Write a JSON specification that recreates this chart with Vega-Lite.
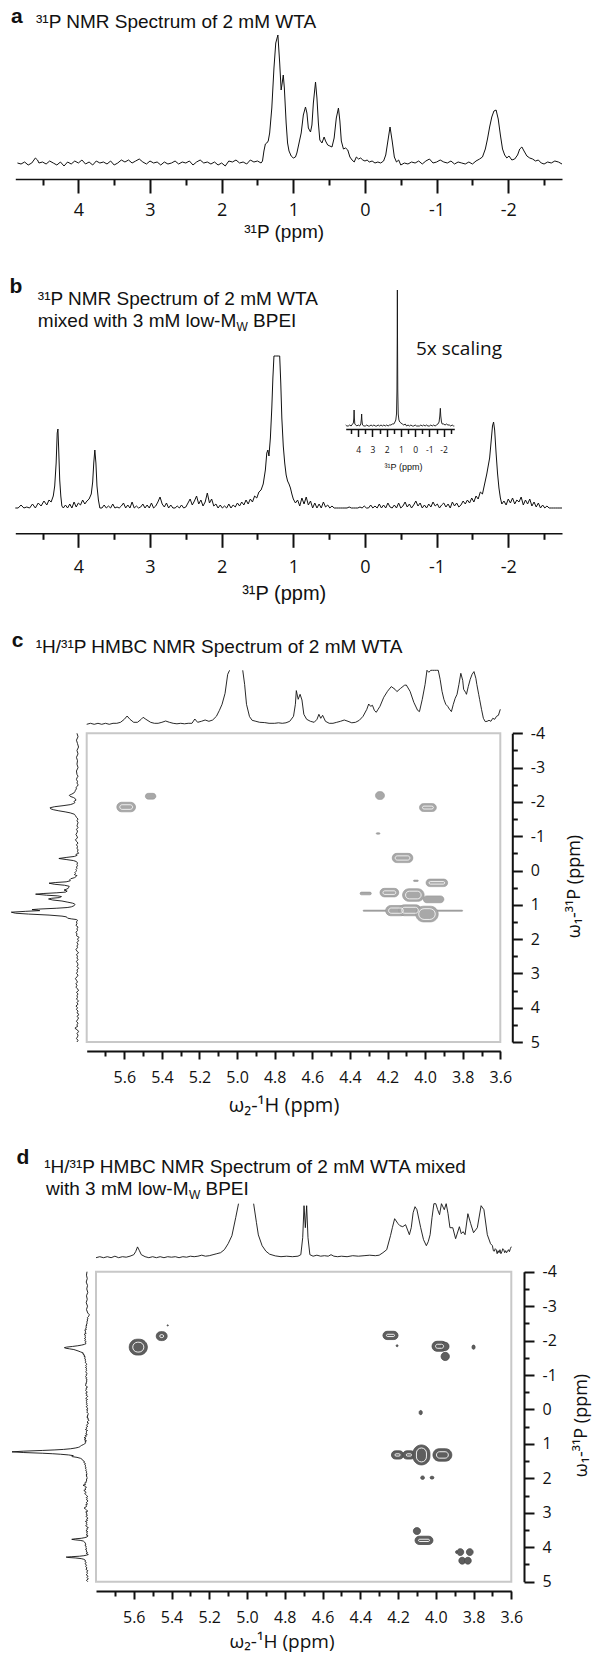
{
"$schema":"https://vega.github.io/schema/vega-lite/v6.json",
"width":593,"height":1656,"autosize":"none","padding":0,"background":"white",
"config":{"view":{"stroke":null},"axis":{"grid":false,"domainColor":"#111","tickColor":"#111","labelColor":"#111","titleColor":"#111","labelFont":"Open Sans","titleFont":"Open Sans","titleFontWeight":"normal","labelFlush":false,"labelOverlap":false,"labelBound":false}},
"datasets":{
"A":[{"p":5.0,"i":1},{"p":4.95,"i":-1},{"p":4.9,"i":2},{"p":4.85,"i":0},{"p":4.8,"i":-1},{"p":4.75,"i":1},{"p":4.7,"i":-2},{"p":4.65,"i":0},{"p":4.6,"i":5},{"p":4.57,"i":3},{"p":4.55,"i":0},{"p":4.5,"i":1},{"p":4.45,"i":-1},{"p":4.4,"i":2},{"p":4.35,"i":0},{"p":4.3,"i":-2},{"p":4.25,"i":1},{"p":4.2,"i":-3},{"p":4.15,"i":1},{"p":4.1,"i":-1},{"p":4.05,"i":2},{"p":4.0,"i":0},{"p":3.95,"i":3},{"p":3.9,"i":-1},{"p":3.85,"i":1},{"p":3.8,"i":-2},{"p":3.75,"i":2},{"p":3.7,"i":0},{"p":3.65,"i":1},{"p":3.6,"i":-1},{"p":3.55,"i":2},{"p":3.5,"i":-2},{"p":3.45,"i":0},{"p":3.4,"i":3},{"p":3.35,"i":1},{"p":3.3,"i":3},{"p":3.25,"i":0},{"p":3.2,"i":2},{"p":3.15,"i":4},{"p":3.1,"i":1},{"p":3.05,"i":-1},{"p":3.0,"i":2},{"p":2.95,"i":0},{"p":2.9,"i":1},{"p":2.85,"i":-2},{"p":2.8,"i":1},{"p":2.75,"i":-1},{"p":2.7,"i":0},{"p":2.65,"i":2},{"p":2.6,"i":-1},{"p":2.55,"i":1},{"p":2.5,"i":0},{"p":2.45,"i":2},{"p":2.4,"i":-2},{"p":2.35,"i":1},{"p":2.3,"i":3},{"p":2.25,"i":0},{"p":2.2,"i":1},{"p":2.15,"i":-1},{"p":2.1,"i":1},{"p":2.05,"i":-2},{"p":2.0,"i":0},{"p":1.95,"i":-3},{"p":1.9,"i":2},{"p":1.85,"i":1},{"p":1.8,"i":3},{"p":1.75,"i":0},{"p":1.7,"i":1},{"p":1.65,"i":-1},{"p":1.6,"i":3},{"p":1.55,"i":1},{"p":1.5,"i":2},{"p":1.45,"i":0},{"p":1.43,"i":2},{"p":1.41,"i":12},{"p":1.39,"i":19},{"p":1.37,"i":20},{"p":1.35,"i":22},{"p":1.33,"i":30},{"p":1.3,"i":55},{"p":1.27,"i":95},{"p":1.245,"i":120},{"p":1.215,"i":128},{"p":1.19,"i":100},{"p":1.17,"i":73},{"p":1.155,"i":80},{"p":1.14,"i":88},{"p":1.125,"i":75},{"p":1.1,"i":40},{"p":1.08,"i":20},{"p":1.06,"i":12},{"p":1.03,"i":7},{"p":1.0,"i":5},{"p":0.97,"i":6},{"p":0.95,"i":10},{"p":0.92,"i":20},{"p":0.89,"i":30},{"p":0.86,"i":48},{"p":0.83,"i":56},{"p":0.81,"i":50},{"p":0.79,"i":35},{"p":0.76,"i":31},{"p":0.74,"i":38},{"p":0.72,"i":60},{"p":0.69,"i":81},{"p":0.67,"i":65},{"p":0.65,"i":40},{"p":0.63,"i":23},{"p":0.6,"i":20},{"p":0.57,"i":26},{"p":0.55,"i":22},{"p":0.52,"i":18},{"p":0.49,"i":17},{"p":0.46,"i":16},{"p":0.43,"i":25},{"p":0.4,"i":45},{"p":0.37,"i":55},{"p":0.35,"i":42},{"p":0.33,"i":22},{"p":0.3,"i":14},{"p":0.27,"i":15},{"p":0.24,"i":13},{"p":0.21,"i":6},{"p":0.18,"i":3},{"p":0.15,"i":1},{"p":0.12,"i":6},{"p":0.09,"i":4},{"p":0.06,"i":5},{"p":0.03,"i":3},{"p":0.0,"i":2},{"p":-0.03,"i":3},{"p":-0.06,"i":1},{"p":-0.1,"i":2},{"p":-0.14,"i":0},{"p":-0.18,"i":1},{"p":-0.22,"i":0},{"p":-0.26,"i":2},{"p":-0.29,"i":8},{"p":-0.32,"i":22},{"p":-0.35,"i":36},{"p":-0.38,"i":22},{"p":-0.41,"i":6},{"p":-0.44,"i":1},{"p":-0.47,"i":3},{"p":-0.5,"i":-2},{"p":-0.55,"i":0},{"p":-0.6,"i":-1},{"p":-0.65,"i":1},{"p":-0.7,"i":0},{"p":-0.75,"i":2},{"p":-0.8,"i":-1},{"p":-0.85,"i":2},{"p":-0.9,"i":4},{"p":-0.95,"i":0},{"p":-1.0,"i":1},{"p":-1.05,"i":3},{"p":-1.1,"i":1},{"p":-1.15,"i":0},{"p":-1.2,"i":2},{"p":-1.25,"i":-1},{"p":-1.3,"i":1},{"p":-1.35,"i":0},{"p":-1.4,"i":-1},{"p":-1.45,"i":1},{"p":-1.5,"i":-1},{"p":-1.55,"i":2},{"p":-1.6,"i":4},{"p":-1.64,"i":6},{"p":-1.68,"i":14},{"p":-1.71,"i":24},{"p":-1.74,"i":36},{"p":-1.77,"i":46},{"p":-1.8,"i":52},{"p":-1.83,"i":53},{"p":-1.86,"i":44},{"p":-1.89,"i":28},{"p":-1.92,"i":14},{"p":-1.95,"i":8},{"p":-1.98,"i":5},{"p":-2.01,"i":7},{"p":-2.05,"i":3},{"p":-2.09,"i":4},{"p":-2.13,"i":8},{"p":-2.16,"i":14},{"p":-2.19,"i":16},{"p":-2.22,"i":12},{"p":-2.26,"i":7},{"p":-2.3,"i":5},{"p":-2.34,"i":4},{"p":-2.38,"i":2},{"p":-2.42,"i":3},{"p":-2.46,"i":0},{"p":-2.5,"i":-1},{"p":-2.55,"i":1},{"p":-2.6,"i":0},{"p":-2.65,"i":2},{"p":-2.7,"i":1},{"p":-2.75,"i":-1},{"p":-2.8,"i":1},{"p":-2.9,"i":2},{"p":-3.0,"i":-1},{"p":-3.1,"i":1},{"p":-3.2,"i":0},{"p":-3.3,"i":2},{"p":-3.4,"i":-1},{"p":-3.5,"i":1},{"p":-3.6,"i":-2},{"p":-3.7,"i":0},{"p":-3.8,"i":2},{"p":-3.9,"i":-1},{"p":-4.0,"i":1}],
"B":[{"p":5.0,"i":-3},{"p":4.96,"i":2},{"p":4.92,"i":-5},{"p":4.88,"i":0},{"p":4.84,"i":-4},{"p":4.8,"i":3},{"p":4.76,"i":-2},{"p":4.72,"i":1},{"p":4.68,"i":-3},{"p":4.64,"i":4},{"p":4.6,"i":0},{"p":4.56,"i":5},{"p":4.52,"i":2},{"p":4.48,"i":7},{"p":4.44,"i":3},{"p":4.41,"i":8},{"p":4.38,"i":6},{"p":4.35,"i":12},{"p":4.33,"i":22},{"p":4.31,"i":45},{"p":4.295,"i":75},{"p":4.285,"i":79},{"p":4.275,"i":60},{"p":4.26,"i":28},{"p":4.245,"i":12},{"p":4.23,"i":2},{"p":4.21,"i":-5},{"p":4.18,"i":3},{"p":4.15,"i":-2},{"p":4.12,"i":4},{"p":4.09,"i":0},{"p":4.06,"i":6},{"p":4.03,"i":1},{"p":4.0,"i":5},{"p":3.97,"i":3},{"p":3.94,"i":8},{"p":3.91,"i":4},{"p":3.88,"i":7},{"p":3.85,"i":9},{"p":3.82,"i":14},{"p":3.8,"i":26},{"p":3.785,"i":45},{"p":3.77,"i":58},{"p":3.755,"i":45},{"p":3.74,"i":22},{"p":3.72,"i":8},{"p":3.7,"i":0},{"p":3.67,"i":-4},{"p":3.64,"i":3},{"p":3.61,"i":-2},{"p":3.58,"i":2},{"p":3.55,"i":-3},{"p":3.52,"i":4},{"p":3.49,"i":-1},{"p":3.46,"i":1},{"p":3.43,"i":-5},{"p":3.4,"i":2},{"p":3.37,"i":5},{"p":3.34,"i":-1},{"p":3.31,"i":3},{"p":3.28,"i":0},{"p":3.25,"i":6},{"p":3.22,"i":-2},{"p":3.19,"i":2},{"p":3.16,"i":-4},{"p":3.13,"i":1},{"p":3.1,"i":4},{"p":3.07,"i":-2},{"p":3.04,"i":3},{"p":3.01,"i":0},{"p":2.98,"i":5},{"p":2.95,"i":-3},{"p":2.92,"i":2},{"p":2.89,"i":6},{"p":2.86,"i":11},{"p":2.83,"i":4},{"p":2.8,"i":1},{"p":2.77,"i":5},{"p":2.74,"i":-2},{"p":2.71,"i":3},{"p":2.68,"i":0},{"p":2.65,"i":-4},{"p":2.62,"i":2},{"p":2.59,"i":-1},{"p":2.56,"i":3},{"p":2.53,"i":-3},{"p":2.5,"i":1},{"p":2.47,"i":5},{"p":2.44,"i":9},{"p":2.41,"i":3},{"p":2.38,"i":7},{"p":2.35,"i":12},{"p":2.32,"i":4},{"p":2.29,"i":8},{"p":2.26,"i":2},{"p":2.23,"i":6},{"p":2.2,"i":15},{"p":2.17,"i":5},{"p":2.14,"i":9},{"p":2.11,"i":2},{"p":2.08,"i":4},{"p":2.05,"i":0},{"p":2.02,"i":3},{"p":1.99,"i":-2},{"p":1.96,"i":2},{"p":1.93,"i":0},{"p":1.9,"i":4},{"p":1.87,"i":-1},{"p":1.84,"i":3},{"p":1.81,"i":1},{"p":1.78,"i":5},{"p":1.75,"i":2},{"p":1.72,"i":6},{"p":1.69,"i":3},{"p":1.66,"i":8},{"p":1.63,"i":4},{"p":1.6,"i":9},{"p":1.57,"i":6},{"p":1.54,"i":12},{"p":1.51,"i":10},{"p":1.48,"i":16},{"p":1.45,"i":18},{"p":1.42,"i":24},{"p":1.39,"i":38},{"p":1.37,"i":55},{"p":1.355,"i":58},{"p":1.34,"i":52},{"p":1.32,"i":70},{"p":1.3,"i":100},{"p":1.285,"i":130},{"p":1.27,"i":170},{"p":1.25,"i":240},{"p":1.23,"i":285},{"p":1.21,"i":240},{"p":1.19,"i":170},{"p":1.175,"i":125},{"p":1.16,"i":90},{"p":1.14,"i":62},{"p":1.12,"i":45},{"p":1.1,"i":33},{"p":1.08,"i":27},{"p":1.06,"i":24},{"p":1.04,"i":20},{"p":1.02,"i":14},{"p":1.0,"i":9},{"p":0.97,"i":5},{"p":0.94,"i":8},{"p":0.91,"i":2},{"p":0.88,"i":10},{"p":0.85,"i":4},{"p":0.82,"i":11},{"p":0.79,"i":3},{"p":0.76,"i":7},{"p":0.73,"i":-1},{"p":0.7,"i":5},{"p":0.67,"i":0},{"p":0.64,"i":4},{"p":0.61,"i":-2},{"p":0.58,"i":6},{"p":0.55,"i":1},{"p":0.52,"i":3},{"p":0.49,"i":-3},{"p":0.46,"i":2},{"p":0.43,"i":-1},{"p":0.4,"i":-6},{"p":0.37,"i":0},{"p":0.34,"i":-4},{"p":0.31,"i":-8},{"p":0.28,"i":-2},{"p":0.25,"i":-5},{"p":0.22,"i":1},{"p":0.19,"i":-4},{"p":0.16,"i":-1},{"p":0.13,"i":-6},{"p":0.1,"i":-2},{"p":0.07,"i":1},{"p":0.04,"i":-3},{"p":0.01,"i":2},{"p":-0.02,"i":-4},{"p":-0.05,"i":0},{"p":-0.08,"i":3},{"p":-0.11,"i":-2},{"p":-0.14,"i":2},{"p":-0.17,"i":-1},{"p":-0.2,"i":4},{"p":-0.23,"i":0},{"p":-0.26,"i":3},{"p":-0.29,"i":-2},{"p":-0.32,"i":5},{"p":-0.35,"i":1},{"p":-0.38,"i":-3},{"p":-0.41,"i":3},{"p":-0.44,"i":0},{"p":-0.47,"i":5},{"p":-0.5,"i":-1},{"p":-0.53,"i":2},{"p":-0.56,"i":6},{"p":-0.59,"i":1},{"p":-0.62,"i":4},{"p":-0.65,"i":-2},{"p":-0.68,"i":3},{"p":-0.71,"i":7},{"p":-0.74,"i":2},{"p":-0.77,"i":5},{"p":-0.8,"i":0},{"p":-0.83,"i":3},{"p":-0.86,"i":-1},{"p":-0.89,"i":4},{"p":-0.92,"i":1},{"p":-0.95,"i":6},{"p":-0.98,"i":2},{"p":-1.01,"i":4},{"p":-1.04,"i":-1},{"p":-1.07,"i":3},{"p":-1.1,"i":5},{"p":-1.13,"i":1},{"p":-1.16,"i":4},{"p":-1.19,"i":0},{"p":-1.22,"i":6},{"p":-1.25,"i":2},{"p":-1.28,"i":5},{"p":-1.31,"i":1},{"p":-1.34,"i":3},{"p":-1.37,"i":7},{"p":-1.4,"i":4},{"p":-1.43,"i":8},{"p":-1.46,"i":5},{"p":-1.49,"i":10},{"p":-1.52,"i":6},{"p":-1.55,"i":12},{"p":-1.58,"i":9},{"p":-1.61,"i":16},{"p":-1.64,"i":14},{"p":-1.67,"i":24},{"p":-1.7,"i":34},{"p":-1.72,"i":42},{"p":-1.74,"i":50},{"p":-1.76,"i":66},{"p":-1.78,"i":82},{"p":-1.795,"i":86},{"p":-1.81,"i":78},{"p":-1.83,"i":55},{"p":-1.85,"i":35},{"p":-1.87,"i":20},{"p":-1.89,"i":10},{"p":-1.91,"i":4},{"p":-1.94,"i":7},{"p":-1.97,"i":3},{"p":-2.0,"i":9},{"p":-2.03,"i":5},{"p":-2.06,"i":10},{"p":-2.09,"i":4},{"p":-2.12,"i":8},{"p":-2.15,"i":6},{"p":-2.18,"i":11},{"p":-2.21,"i":3},{"p":-2.24,"i":8},{"p":-2.27,"i":4},{"p":-2.3,"i":9},{"p":-2.33,"i":2},{"p":-2.36,"i":6},{"p":-2.39,"i":1},{"p":-2.42,"i":5},{"p":-2.45,"i":0},{"p":-2.48,"i":3},{"p":-2.51,"i":-2},{"p":-2.54,"i":2},{"p":-2.57,"i":-3},{"p":-2.6,"i":0},{"p":-2.63,"i":-4},{"p":-2.66,"i":-1},{"p":-2.69,"i":-5},{"p":-2.72,"i":-7},{"p":-2.75,"i":-9},{"p":-2.8,"i":-3},{"p":-2.9,"i":2},{"p":-3.0,"i":-2},{"p":-3.1,"i":3},{"p":-3.2,"i":-1},{"p":-3.3,"i":2},{"p":-3.4,"i":-3},{"p":-3.5,"i":1},{"p":-3.6,"i":-2},{"p":-3.7,"i":3},{"p":-3.8,"i":-1},{"p":-3.9,"i":2},{"p":-4.0,"i":0}],
"I":[{"p":4.88,"i":1},{"p":4.8,"i":-1},{"p":4.7,"i":0},{"p":4.6,"i":1},{"p":4.5,"i":0},{"p":4.4,"i":2},{"p":4.34,"i":3},{"p":4.31,"i":8},{"p":4.29,"i":16},{"p":4.27,"i":8},{"p":4.24,"i":2},{"p":4.1,"i":0},{"p":4.0,"i":1},{"p":3.9,"i":0},{"p":3.82,"i":2},{"p":3.78,"i":7},{"p":3.76,"i":12},{"p":3.74,"i":6},{"p":3.7,"i":1},{"p":3.6,"i":-1},{"p":3.5,"i":0},{"p":3.4,"i":1},{"p":3.3,"i":-1},{"p":3.2,"i":0},{"p":3.1,"i":1},{"p":3.0,"i":0},{"p":2.9,"i":1},{"p":2.8,"i":-1},{"p":2.7,"i":0},{"p":2.6,"i":1},{"p":2.5,"i":0},{"p":2.4,"i":1},{"p":2.3,"i":0},{"p":2.2,"i":1},{"p":2.1,"i":0},{"p":2.0,"i":1},{"p":1.9,"i":0},{"p":1.8,"i":1},{"p":1.7,"i":1},{"p":1.6,"i":2},{"p":1.5,"i":2},{"p":1.42,"i":4},{"p":1.36,"i":6},{"p":1.31,"i":12},{"p":1.28,"i":35},{"p":1.26,"i":90},{"p":1.25,"i":136},{"p":1.24,"i":90},{"p":1.22,"i":35},{"p":1.19,"i":12},{"p":1.14,"i":6},{"p":1.08,"i":4},{"p":1.0,"i":3},{"p":0.9,"i":2},{"p":0.8,"i":1},{"p":0.7,"i":2},{"p":0.6,"i":0},{"p":0.5,"i":1},{"p":0.4,"i":0},{"p":0.3,"i":1},{"p":0.2,"i":-1},{"p":0.1,"i":0},{"p":0.0,"i":1},{"p":-0.1,"i":0},{"p":-0.2,"i":-1},{"p":-0.3,"i":0},{"p":-0.4,"i":1},{"p":-0.5,"i":0},{"p":-0.6,"i":1},{"p":-0.7,"i":0},{"p":-0.8,"i":1},{"p":-0.9,"i":-1},{"p":-1.0,"i":0},{"p":-1.1,"i":1},{"p":-1.2,"i":0},{"p":-1.3,"i":1},{"p":-1.4,"i":0},{"p":-1.5,"i":1},{"p":-1.6,"i":2},{"p":-1.68,"i":4},{"p":-1.73,"i":10},{"p":-1.77,"i":17.7},{"p":-1.8,"i":10},{"p":-1.85,"i":4},{"p":-1.9,"i":2},{"p":-2.0,"i":2},{"p":-2.1,"i":1},{"p":-2.2,"i":2},{"p":-2.3,"i":1},{"p":-2.4,"i":1},{"p":-2.5,"i":0},{"p":-2.6,"i":1},{"p":-2.7,"i":-1},{"p":-2.75,"i":-1}],
"CT":[{"p":5.8,"i":0},{"p":5.78,"i":1},{"p":5.76,"i":0},{"p":5.74,"i":1},{"p":5.72,"i":0},{"p":5.7,"i":1},{"p":5.68,"i":0},{"p":5.66,"i":1},{"p":5.64,"i":1},{"p":5.62,"i":2},{"p":5.6,"i":5},{"p":5.585,"i":8.3},{"p":5.57,"i":5},{"p":5.55,"i":2},{"p":5.53,"i":2},{"p":5.51,"i":5},{"p":5.5,"i":7},{"p":5.485,"i":5},{"p":5.46,"i":2},{"p":5.44,"i":1},{"p":5.42,"i":1},{"p":5.4,"i":2},{"p":5.38,"i":3.3},{"p":5.36,"i":2},{"p":5.34,"i":1},{"p":5.32,"i":0.5},{"p":5.3,"i":1},{"p":5.28,"i":0.5},{"p":5.26,"i":1},{"p":5.24,"i":1},{"p":5.225,"i":5.3},{"p":5.21,"i":2},{"p":5.19,"i":3},{"p":5.17,"i":4.3},{"p":5.15,"i":3},{"p":5.13,"i":4.3},{"p":5.11,"i":8},{"p":5.094,"i":14},{"p":5.08,"i":20},{"p":5.064,"i":31},{"p":5.05,"i":50},{"p":5.04,"i":60},{"p":5.02,"i":null},{"p":5.0,"i":null},{"p":4.98,"i":null},{"p":4.97,"i":60},{"p":4.96,"i":40},{"p":4.95,"i":20},{"p":4.934,"i":7.7},{"p":4.92,"i":4},{"p":4.9,"i":3},{"p":4.88,"i":2},{"p":4.853,"i":1.7},{"p":4.83,"i":1},{"p":4.8,"i":1},{"p":4.78,"i":1.5},{"p":4.76,"i":1},{"p":4.74,"i":1.5},{"p":4.72,"i":3},{"p":4.7,"i":8},{"p":4.69,"i":20},{"p":4.685,"i":33.7},{"p":4.675,"i":25},{"p":4.665,"i":30},{"p":4.655,"i":24.3},{"p":4.645,"i":10},{"p":4.63,"i":5},{"p":4.61,"i":3},{"p":4.59,"i":2},{"p":4.575,"i":5},{"p":4.565,"i":10},{"p":4.555,"i":6},{"p":4.545,"i":9},{"p":4.53,"i":3},{"p":4.51,"i":1},{"p":4.49,"i":1},{"p":4.47,"i":2},{"p":4.45,"i":3},{"p":4.43,"i":4.3},{"p":4.41,"i":3},{"p":4.39,"i":1.5},{"p":4.37,"i":2},{"p":4.35,"i":4},{"p":4.33,"i":8},{"p":4.31,"i":15},{"p":4.3,"i":20.3},{"p":4.29,"i":18},{"p":4.28,"i":19},{"p":4.27,"i":14},{"p":4.26,"i":12},{"p":4.25,"i":15},{"p":4.24,"i":18},{"p":4.22,"i":27},{"p":4.2,"i":33},{"p":4.18,"i":37.7},{"p":4.16,"i":35},{"p":4.15,"i":32.7},{"p":4.13,"i":36},{"p":4.11,"i":39},{"p":4.1,"i":39.3},{"p":4.08,"i":33},{"p":4.06,"i":22},{"p":4.04,"i":14},{"p":4.03,"i":12.7},{"p":4.015,"i":25},{"p":4.0,"i":40},{"p":3.99,"i":60},{"p":3.98,"i":52},{"p":3.97,"i":60},{"p":3.96,"i":55},{"p":3.95,"i":60},{"p":3.94,"i":58},{"p":3.93,"i":60},{"p":3.92,"i":45},{"p":3.91,"i":33},{"p":3.9,"i":25},{"p":3.89,"i":20},{"p":3.88,"i":18},{"p":3.87,"i":15},{"p":3.86,"i":12.7},{"p":3.85,"i":20},{"p":3.84,"i":26},{"p":3.83,"i":30},{"p":3.82,"i":40},{"p":3.81,"i":51},{"p":3.8,"i":44},{"p":3.795,"i":35},{"p":3.785,"i":32},{"p":3.78,"i":30},{"p":3.77,"i":38},{"p":3.76,"i":45},{"p":3.75,"i":50},{"p":3.74,"i":52.7},{"p":3.73,"i":46},{"p":3.725,"i":40},{"p":3.715,"i":30},{"p":3.71,"i":25},{"p":3.7,"i":15},{"p":3.69,"i":6},{"p":3.68,"i":2.7},{"p":3.67,"i":3},{"p":3.66,"i":4},{"p":3.65,"i":3},{"p":3.64,"i":6},{"p":3.63,"i":5},{"p":3.62,"i":8},{"p":3.61,"i":9},{"p":3.6,"i":15}],
"DT":[{"p":5.8,"i":0},{"p":5.78,"i":1},{"p":5.76,"i":-0.5},{"p":5.74,"i":1},{"p":5.72,"i":0},{"p":5.7,"i":1.5},{"p":5.68,"i":0},{"p":5.66,"i":1},{"p":5.64,"i":0.5},{"p":5.62,"i":1.5},{"p":5.6,"i":3},{"p":5.59,"i":6},{"p":5.58,"i":10.8},{"p":5.57,"i":7},{"p":5.56,"i":3},{"p":5.54,"i":1},{"p":5.52,"i":0},{"p":5.5,"i":1},{"p":5.48,"i":-0.5},{"p":5.46,"i":1},{"p":5.44,"i":0},{"p":5.42,"i":1},{"p":5.4,"i":0.5},{"p":5.38,"i":1},{"p":5.36,"i":0},{"p":5.34,"i":1},{"p":5.32,"i":0.5},{"p":5.3,"i":1.5},{"p":5.28,"i":1},{"p":5.26,"i":1.5},{"p":5.24,"i":2.5},{"p":5.22,"i":1.5},{"p":5.2,"i":2},{"p":5.18,"i":3},{"p":5.16,"i":4},{"p":5.14,"i":5},{"p":5.12,"i":8},{"p":5.1,"i":14},{"p":5.08,"i":22},{"p":5.06,"i":40},{"p":5.045,"i":56},{"p":5.02,"i":null},{"p":5.0,"i":null},{"p":4.98,"i":null},{"p":4.965,"i":56},{"p":4.95,"i":35},{"p":4.94,"i":22.8},{"p":4.92,"i":12},{"p":4.9,"i":6.5},{"p":4.88,"i":3.5},{"p":4.85,"i":1.8},{"p":4.82,"i":1},{"p":4.79,"i":1.5},{"p":4.76,"i":1},{"p":4.73,"i":1.5},{"p":4.715,"i":3},{"p":4.705,"i":20},{"p":4.698,"i":52},{"p":4.691,"i":30},{"p":4.684,"i":52},{"p":4.677,"i":20},{"p":4.667,"i":3},{"p":4.65,"i":1.5},{"p":4.63,"i":2.5},{"p":4.61,"i":1.5},{"p":4.59,"i":2},{"p":4.57,"i":1.5},{"p":4.555,"i":3},{"p":4.54,"i":1.5},{"p":4.52,"i":1},{"p":4.5,"i":1.5},{"p":4.47,"i":1},{"p":4.44,"i":2},{"p":4.41,"i":1.5},{"p":4.38,"i":2},{"p":4.35,"i":2.5},{"p":4.32,"i":2},{"p":4.3,"i":2.5},{"p":4.28,"i":5},{"p":4.26,"i":8},{"p":4.24,"i":22},{"p":4.23,"i":30},{"p":4.218,"i":39},{"p":4.2,"i":34},{"p":4.19,"i":32},{"p":4.175,"i":31},{"p":4.16,"i":33},{"p":4.14,"i":23},{"p":4.13,"i":30},{"p":4.12,"i":45},{"p":4.11,"i":51},{"p":4.1,"i":48},{"p":4.08,"i":30},{"p":4.065,"i":18},{"p":4.05,"i":12},{"p":4.04,"i":16},{"p":4.03,"i":23},{"p":4.02,"i":40},{"p":4.01,"i":60},{"p":4.0,"i":60},{"p":3.99,"i":48},{"p":3.98,"i":43},{"p":3.97,"i":60},{"p":3.955,"i":48},{"p":3.945,"i":60},{"p":3.935,"i":44},{"p":3.925,"i":30},{"p":3.91,"i":30},{"p":3.895,"i":19},{"p":3.875,"i":31},{"p":3.865,"i":24},{"p":3.855,"i":26},{"p":3.845,"i":23},{"p":3.83,"i":44},{"p":3.815,"i":34},{"p":3.8,"i":25},{"p":3.78,"i":30},{"p":3.76,"i":52},{"p":3.745,"i":48},{"p":3.727,"i":23},{"p":3.71,"i":14},{"p":3.7,"i":12},{"p":3.695,"i":7},{"p":3.69,"i":6.5},{"p":3.685,"i":9},{"p":3.68,"i":8},{"p":3.675,"i":4},{"p":3.67,"i":7},{"p":3.665,"i":5},{"p":3.66,"i":8},{"p":3.655,"i":4},{"p":3.65,"i":6},{"p":3.645,"i":9},{"p":3.64,"i":8},{"p":3.635,"i":5},{"p":3.63,"i":7},{"p":3.625,"i":5},{"p":3.62,"i":6.5},{"p":3.615,"i":8},{"p":3.61,"i":6},{"p":3.605,"i":9},{"p":3.6,"i":11}],
"CB":[{"x1":5.64,"x2":5.54,"y1":-1.99,"y2":-1.71},{"x1":5.488,"x2":5.432,"y1":-2.25,"y2":-2.08},{"x1":4.264,"x2":4.216,"y1":-2.3,"y2":-2.07},{"x1":4.03,"x2":3.94,"y1":-1.95,"y2":-1.72},{"x1":4.26,"x2":4.24,"y1":-1.1,"y2":-1.06},{"x1":4.175,"x2":4.065,"y1":-0.5,"y2":-0.23},{"x1":4.062,"x2":4.036,"y1":0.28,"y2":0.32},{"x1":3.995,"x2":3.88,"y1":0.25,"y2":0.47},{"x1":4.346,"x2":4.286,"y1":0.63,"y2":0.71},{"x1":4.24,"x2":4.14,"y1":0.52,"y2":0.77},{"x1":4.12,"x2":4.005,"y1":0.53,"y2":0.9},{"x1":4.01,"x2":3.9,"y1":0.74,"y2":0.94},{"x1":4.33,"x2":3.8,"y1":1.155,"y2":1.19},{"x1":4.21,"x2":4.1,"y1":1.02,"y2":1.32},{"x1":4.14,"x2":4.02,"y1":1.0,"y2":1.32},{"x1":4.05,"x2":3.93,"y1":1.04,"y2":1.5}],
"DB":[{"x1":5.624,"x2":5.528,"y1":-2.04,"y2":-1.58},{"x1":5.481,"x2":5.423,"y1":-2.26,"y2":-2.0},{"x1":5.423,"x2":5.417,"y1":-2.46,"y2":-2.42},{"x1":4.28,"x2":4.2,"y1":-2.27,"y2":-2.03},{"x1":4.21,"x2":4.2,"y1":-1.88,"y2":-1.82},{"x1":4.02,"x2":3.94,"y1":-1.98,"y2":-1.69},{"x1":3.97,"x2":3.93,"y1":-1.95,"y2":-1.71},{"x1":3.972,"x2":3.928,"y1":-1.66,"y2":-1.42},{"x1":3.808,"x2":3.792,"y1":-1.87,"y2":-1.75},{"x1":4.088,"x2":4.072,"y1":0.03,"y2":0.15},{"x1":4.235,"x2":4.17,"y1":1.2,"y2":1.44},{"x1":4.175,"x2":4.11,"y1":1.2,"y2":1.44},{"x1":4.121,"x2":4.031,"y1":1.03,"y2":1.61},{"x1":4.015,"x2":3.915,"y1":1.14,"y2":1.5},{"x1":4.08,"x2":4.06,"y1":1.93,"y2":2.03},{"x1":4.03,"x2":4.01,"y1":1.94,"y2":2.02},{"x1":4.119,"x2":4.081,"y1":3.43,"y2":3.63},{"x1":4.11,"x2":4.015,"y1":3.68,"y2":3.92},{"x1":3.888,"x2":3.852,"y1":4.04,"y2":4.24},{"x1":3.838,"x2":3.802,"y1":4.04,"y2":4.24},{"x1":3.878,"x2":3.842,"y1":4.29,"y2":4.49},{"x1":3.848,"x2":3.812,"y1":4.29,"y2":4.49},{"x1":3.895,"x2":3.885,"y1":4.1,"y2":4.18}]
},
"layer":[
{"data":{"name":"A"},"transform":[{"filter":"datum.p <= 4.88 && datum.p >= -2.75"}],"mark":{"type":"line","color":"#111","strokeWidth":1},
 "encoding":{"x":{"field":"p","type":"quantitative","scale":{"domain":[4.88,-2.75],"range":[15.3,562],"zero":false,"nice":false},
   "axis":{"orient":"bottom","offset":-1477,"values":[4,3,2,1,0,-1,-2],"labelExpr":"'' + datum.value","tickSize":14,"tickWidth":2,"domainWidth":1.5,"labelFontSize":18,"labelPadding":8,"title":"³¹P  (ppm)","titleFont":"Liberation Sans","titleFontSize":19,"titleX":283.7,"titleY":58,"titleAlign":"center","titleBaseline":"alphabetic"}},
  "y":{"field":"i","type":"quantitative","scale":{"domain":[0,128],"range":[163,35],"zero":false,"nice":false},"axis":null}}},
{"layer":[
 {"data":{"values":[{"t":"a"}]},"mark":{"type":"text","align":"left","baseline":"alphabetic","font":"Liberation Sans","fontSize":21,"fontWeight":"bold","color":"#111"},
  "encoding":{"text":{"field":"t","type":"nominal"},"x":{"datum":4.94,"type":"quantitative","scale":{"domain":[4.88,-2.75],"range":[15.3,562],"zero":false,"nice":false},"axis":null},"y":{"datum":139.7,"type":"quantitative","scale":{"domain":[0,128],"range":[163,35],"zero":false,"nice":false},"axis":null}}},
 {"data":{"values":[{"t":"³¹P NMR Spectrum of 2 mM WTA"}]},"mark":{"type":"text","align":"left","baseline":"alphabetic","font":"Liberation Sans","fontSize":19,"color":"#111"},
  "encoding":{"text":{"field":"t","type":"nominal"},"x":{"datum":4.591,"type":"quantitative","axis":null},"y":{"datum":134.7,"type":"quantitative","axis":null}}}
]},
{"data":{"values":[{"z":0}]},"mark":{"type":"point","opacity":0},
 "encoding":{"x":{"datum":0,"type":"quantitative","scale":{"domain":[4.88,-2.75],"range":[15.3,562],"zero":false,"nice":false},
  "axis":{"orient":"bottom","offset":-1477,"values":[4.5,3.5,2.5,1.5,0.5,-0.5,-1.5,-2.5],"tickSize":6,"tickWidth":2,"labels":false,"domain":false,"title":null}}}},
{"data":{"name":"B"},"transform":[{"filter":"datum.p <= 4.88 && datum.p >= -2.75"}],"mark":{"type":"line","color":"#111","strokeWidth":1},
 "encoding":{"x":{"field":"p","type":"quantitative","scale":{"domain":[4.88,-2.75],"range":[15.3,562],"zero":false,"nice":false},
   "axis":{"orient":"bottom","offset":-1122.7,"values":[4,3,2,1,0,-1,-2],"labelExpr":"'' + datum.value","tickSize":14,"tickWidth":2,"domainWidth":1.5,"labelFontSize":18,"labelPadding":11,"title":"³¹P  (ppm)","titleFont":"Liberation Sans","titleFontSize":20,"titleX":283.7,"titleY":65.7,"titleAlign":"center","titleBaseline":"alphabetic"}},
  "y":{"field":"i","type":"quantitative","scale":{"domain":[0,152],"range":[508,356],"zero":false,"nice":false,"clamp":true},"axis":null}}},
{"data":{"values":[{"z":0}]},"mark":{"type":"point","opacity":0},
 "encoding":{"x":{"datum":0,"type":"quantitative","scale":{"domain":[4.88,-2.75],"range":[15.3,562],"zero":false,"nice":false},
  "axis":{"orient":"bottom","offset":-1122.7,"values":[4.5,3.5,2.5,1.5,0.5,-0.5,-1.5,-2.5],"tickSize":6,"tickWidth":2,"labels":false,"domain":false,"title":null}}}},
{"layer":[
 {"data":{"values":[{"t":"b"}]},"mark":{"type":"text","align":"left","baseline":"alphabetic","font":"Liberation Sans","fontSize":21,"fontWeight":"bold","color":"#111"},
  "encoding":{"text":{"field":"t","type":"nominal"},"x":{"datum":4.961,"type":"quantitative","scale":{"domain":[4.88,-2.75],"range":[15.3,562],"zero":false,"nice":false},"axis":null},"y":{"datum":214.7,"type":"quantitative","scale":{"domain":[0,152],"range":[508,356],"zero":false,"nice":false},"axis":null}}},
 {"data":{"values":[{"t":"³¹P NMR Spectrum of 2 mM WTA"}]},"mark":{"type":"text","align":"left","baseline":"alphabetic","font":"Liberation Sans","fontSize":19,"color":"#111"},
  "encoding":{"text":{"field":"t","type":"nominal"},"x":{"datum":4.566,"type":"quantitative","axis":null},"y":{"datum":203,"type":"quantitative","axis":null}}},
 {"data":{"values":[{"t":"mixed with 3 mM low-M"}]},"mark":{"type":"text","align":"left","baseline":"alphabetic","font":"Liberation Sans","fontSize":19,"color":"#111"},
  "encoding":{"text":{"field":"t","type":"nominal"},"x":{"datum":4.566,"type":"quantitative","axis":null},"y":{"datum":180.7,"type":"quantitative","axis":null}}},
 {"data":{"values":[{"t":"W"}]},"mark":{"type":"text","align":"left","baseline":"alphabetic","font":"Liberation Sans","fontSize":12,"color":"#111"},
  "encoding":{"text":{"field":"t","type":"nominal"},"x":{"datum":1.793,"type":"quantitative","axis":null},"y":{"datum":177,"type":"quantitative","axis":null}}},
 {"data":{"values":[{"t":"BPEI"}]},"mark":{"type":"text","align":"left","baseline":"alphabetic","font":"Liberation Sans","fontSize":19,"color":"#111"},
  "encoding":{"text":{"field":"t","type":"nominal"},"x":{"datum":1.562,"type":"quantitative","axis":null},"y":{"datum":180.7,"type":"quantitative","axis":null}}},
 {"data":{"values":[{"t":"5x scaling"}]},"mark":{"type":"text","align":"left","baseline":"alphabetic","font":"Open Sans","fontSize":19,"color":"#111"},
  "encoding":{"text":{"field":"t","type":"nominal"},"x":{"datum":-0.712,"type":"quantitative","axis":null},"y":{"datum":153,"type":"quantitative","axis":null}}}
]},
{"data":{"name":"I"},"mark":{"type":"line","color":"#111","strokeWidth":0.9},
 "encoding":{"x":{"field":"p","type":"quantitative","scale":{"domain":[4.88,-2.75],"range":[345.7,454.3],"zero":false,"nice":false},
   "axis":{"orient":"bottom","offset":-1227,"values":[4,3,2,1,0,-1,-2],"labelExpr":"'' + datum.value","tickSize":7.5,"tickWidth":1.5,"domainWidth":1.5,"labelFontSize":8.5,"labelPadding":9,"title":"³¹P  (ppm)","titleFont":"Liberation Sans","titleFontSize":9,"titleX":403,"titleY":40,"titleAlign":"center","titleBaseline":"alphabetic"}},
  "y":{"field":"i","type":"quantitative","scale":{"domain":[0,136],"range":[426,290],"zero":false,"nice":false,"clamp":true},"axis":null}}},
{"data":{"values":[{"z":0}]},"mark":{"type":"point","opacity":0},
 "encoding":{"x":{"datum":0,"type":"quantitative","scale":{"domain":[4.88,-2.75],"range":[345.7,454.3],"zero":false,"nice":false},
  "axis":{"orient":"bottom","offset":-1227,"values":[4.5,3.5,2.5,1.5,0.5,-0.5,-1.5,-2.5],"tickSize":4.5,"tickWidth":1.5,"labels":false,"domain":false,"title":null}}}},
{"data":{"name":"CT"},"mark":{"type":"line","color":"#111","strokeWidth":0.9},
 "encoding":{"x":{"field":"p","type":"quantitative","scale":{"domain":[5.8,3.6],"range":[86.7,500.3],"zero":false,"nice":false},"axis":null},
  "y":{"field":"i","type":"quantitative","scale":{"domain":[0,54],"range":[724.3,670.3],"zero":false,"nice":false,"clamp":true},"axis":null}}},
{"data":{"name":"A"},"mark":{"type":"line","color":"#111","strokeWidth":0.9},
 "encoding":{"x":{"field":"i","type":"quantitative","scale":{"domain":[0,128],"range":[77.5,11.3],"zero":false,"nice":false},"axis":null},
  "y":{"field":"p","type":"quantitative","scale":{"domain":[-4,5],"range":[733.3,1042],"zero":false,"nice":false},"axis":null},
  "order":{"field":"p","type":"quantitative"}}},
{"data":{"values":[{"z":0}]},"mark":{"type":"rect","filled":false,"stroke":"#c8c8c8","strokeWidth":2},
 "encoding":{"x":{"datum":5.8,"type":"quantitative","scale":{"domain":[5.8,3.6],"range":[86.7,500.3],"zero":false,"nice":false},
   "axis":{"orient":"bottom","offset":-605,"values":[5.6,5.4,5.2,5.0,4.8,4.6,4.4,4.2,4.0,3.8,3.6],"format":".1f","tickSize":8,"tickWidth":2,"domainWidth":2,"labelFontSize":16,"labelPadding":10.5,"title":"ω₂-¹H  (ppm)","titleFontSize":20,"titleX":283.5,"titleY":60,"titleAlign":"center","titleBaseline":"alphabetic"}},
  "x2":{"datum":3.6},
  "y":{"datum":-4,"type":"quantitative","scale":{"domain":[-4,5],"range":[733.3,1042],"zero":false,"nice":false},
   "axis":{"orient":"right","offset":-80.7,"values":[-4,-3,-2,-1,0,1,2,3,4,5],"labelExpr":"'' + datum.value","tickSize":10,"tickWidth":2,"domainWidth":2,"labelFontSize":16,"labelPadding":8,"title":"ω₁-³¹P  (ppm)","titleFontSize":18,"titleAngle":270,"titleX":62,"titleY":886,"titleAlign":"center","titleBaseline":"middle"}},
  "y2":{"datum":5}}},
{"layer":[
 {"data":{"name":"CB"},"mark":{"type":"rect","cornerRadius":60,"fill":"#a8a8a8","stroke":"#939393","strokeWidth":0.6},
  "encoding":{"x":{"field":"x1","type":"quantitative","scale":{"domain":[5.8,3.6],"range":[86.7,500.3],"zero":false,"nice":false},"axis":null},"x2":{"field":"x2"},"y":{"field":"y1","type":"quantitative","scale":{"domain":[-4,5],"range":[733.3,1042],"zero":false,"nice":false},"axis":null},"y2":{"field":"y2"}}},
 {"data":{"name":"CB"},"transform":[{"filter":"datum.x1 - datum.x2 > 0.05 && datum.y2 - datum.y1 > 0.2"}],"mark":{"type":"rect","cornerRadius":60,"filled":false,"stroke":"white","strokeWidth":0.8,"xOffset":3,"x2Offset":-3,"yOffset":2.5,"y2Offset":-2.5},
  "encoding":{"x":{"field":"x1","type":"quantitative","axis":null},"x2":{"field":"x2"},"y":{"field":"y1","type":"quantitative","axis":null},"y2":{"field":"y2"}}},
 {"data":{"values":[{"t":"c"}]},"mark":{"type":"text","align":"left","baseline":"alphabetic","font":"Liberation Sans","fontSize":21,"fontWeight":"bold","color":"#111"},
  "encoding":{"text":{"field":"t","type":"nominal"},"x":{"datum":6.199,"type":"quantitative","axis":null},"y":{"datum":-6.525,"type":"quantitative","axis":null}}},
 {"data":{"values":[{"t":"¹H/³¹P HMBC NMR Spectrum of 2 mM WTA"}]},"mark":{"type":"text","align":"left","baseline":"alphabetic","font":"Liberation Sans","fontSize":19,"color":"#111"},
  "encoding":{"text":{"field":"t","type":"nominal"},"x":{"datum":6.071,"type":"quantitative","axis":null},"y":{"datum":-6.332,"type":"quantitative","axis":null}}}
]},
{"data":{"values":[{"z":0}]},"mark":{"type":"point","opacity":0},
 "encoding":{"x":{"datum":4.5,"type":"quantitative","scale":{"domain":[5.8,3.6],"range":[86.7,500.3],"zero":false,"nice":false},
   "axis":{"orient":"bottom","offset":-605,"values":[5.7,5.5,5.3,5.1,4.9,4.7,4.5,4.3,4.1,3.9,3.7],"tickSize":5,"tickWidth":2,"labels":false,"domain":false,"title":null}},
  "y":{"datum":0,"type":"quantitative","scale":{"domain":[-4,5],"range":[733.3,1042],"zero":false,"nice":false},
   "axis":{"orient":"right","offset":-80.7,"values":[-3.5,-2.5,-1.5,-0.5,0.5,1.5,2.5,3.5,4.5],"tickSize":5,"tickWidth":2,"labels":false,"domain":false,"title":null}}}},
{"data":{"name":"DT"},"mark":{"type":"line","color":"#111","strokeWidth":0.9},
 "encoding":{"x":{"field":"p","type":"quantitative","scale":{"domain":[5.8,3.6],"range":[96,511.3],"zero":false,"nice":false},"axis":null},
  "y":{"field":"i","type":"quantitative","scale":{"domain":[0,54],"range":[1257.7,1203.7],"zero":false,"nice":false,"clamp":true},"axis":null}}},
{"data":{"name":"B"},"mark":{"type":"line","color":"#111","strokeWidth":0.9},
 "encoding":{"x":{"field":"i","type":"quantitative","scale":{"domain":[0,285],"range":[87,12],"zero":false,"nice":false},"axis":null},
  "y":{"field":"p","type":"quantitative","scale":{"domain":[-4,5],"range":[1271.7,1581.7],"zero":false,"nice":false},"axis":null},
  "order":{"field":"p","type":"quantitative"}}},
{"data":{"values":[{"z":0}]},"mark":{"type":"rect","filled":false,"stroke":"#c8c8c8","strokeWidth":2},
 "encoding":{"x":{"datum":5.8,"type":"quantitative","scale":{"domain":[5.8,3.6],"range":[96,511.3],"zero":false,"nice":false},
   "axis":{"orient":"bottom","offset":-65,"values":[5.6,5.4,5.2,5.0,4.8,4.6,4.4,4.2,4.0,3.8,3.6],"format":".1f","tickSize":8,"tickWidth":2,"domainWidth":2,"labelFontSize":16,"labelPadding":10,"title":"ω₂-¹H  (ppm)","titleFontSize":19,"titleX":281.5,"titleY":56,"titleAlign":"center","titleBaseline":"alphabetic"}},
  "x2":{"datum":3.6},
  "y":{"datum":-4,"type":"quantitative","scale":{"domain":[-4,5],"range":[1271.7,1581.7],"zero":false,"nice":false},
   "axis":{"orient":"right","offset":-69,"values":[-4,-3,-2,-1,0,1,2,3,4,5],"labelExpr":"'' + datum.value","tickSize":10,"tickWidth":2,"domainWidth":2,"labelFontSize":16,"labelPadding":8,"title":"ω₁-³¹P  (ppm)","titleFontSize":18,"titleAngle":270,"titleX":57.5,"titleY":1425,"titleAlign":"center","titleBaseline":"middle"}},
  "y2":{"datum":5}}},
{"layer":[
 {"data":{"name":"DB"},"mark":{"type":"rect","cornerRadius":60,"fill":"#5e5e5e","stroke":"#4a4a4a","strokeWidth":0.8},
  "encoding":{"x":{"field":"x1","type":"quantitative","scale":{"domain":[5.8,3.6],"range":[96,511.3],"zero":false,"nice":false},"axis":null},"x2":{"field":"x2"},"y":{"field":"y1","type":"quantitative","scale":{"domain":[-4,5],"range":[1271.7,1581.7],"zero":false,"nice":false},"axis":null},"y2":{"field":"y2"}}},
 {"data":{"name":"DB"},"transform":[{"filter":"datum.x1 - datum.x2 > 0.05 && datum.y2 - datum.y1 > 0.2"}],"mark":{"type":"rect","cornerRadius":60,"filled":false,"stroke":"white","strokeWidth":0.9,"xOffset":3.5,"x2Offset":-3.5,"yOffset":3,"y2Offset":-3},
  "encoding":{"x":{"field":"x1","type":"quantitative","axis":null},"x2":{"field":"x2"},"y":{"field":"y1","type":"quantitative","axis":null},"y2":{"field":"y2"}}},
 {"data":{"values":[{"t":"d"}]},"mark":{"type":"text","align":"left","baseline":"alphabetic","font":"Liberation Sans","fontSize":21,"fontWeight":"bold","color":"#111"},
  "encoding":{"text":{"field":"t","type":"nominal"},"x":{"datum":6.221,"type":"quantitative","axis":null},"y":{"datum":-7.127,"type":"quantitative","axis":null}}},
 {"data":{"values":[{"t":"¹H/³¹P HMBC NMR Spectrum of 2 mM WTA mixed"}]},"mark":{"type":"text","align":"left","baseline":"alphabetic","font":"Liberation Sans","fontSize":19,"color":"#111"},
  "encoding":{"text":{"field":"t","type":"nominal"},"x":{"datum":6.074,"type":"quantitative","axis":null},"y":{"datum":-6.88,"type":"quantitative","axis":null}}},
 {"data":{"values":[{"t":"with 3 mM low-M"}]},"mark":{"type":"text","align":"left","baseline":"alphabetic","font":"Liberation Sans","fontSize":19,"color":"#111"},
  "encoding":{"text":{"field":"t","type":"nominal"},"x":{"datum":6.065,"type":"quantitative","axis":null},"y":{"datum":-6.227,"type":"quantitative","axis":null}}},
 {"data":{"values":[{"t":"W"}]},"mark":{"type":"text","align":"left","baseline":"alphabetic","font":"Liberation Sans","fontSize":12,"color":"#111"},
  "encoding":{"text":{"field":"t","type":"nominal"},"x":{"datum":5.308,"type":"quantitative","axis":null},"y":{"datum":-6.125,"type":"quantitative","axis":null}}},
 {"data":{"values":[{"t":"BPEI"}]},"mark":{"type":"text","align":"left","baseline":"alphabetic","font":"Liberation Sans","fontSize":19,"color":"#111"},
  "encoding":{"text":{"field":"t","type":"nominal"},"x":{"datum":5.22,"type":"quantitative","axis":null},"y":{"datum":-6.227,"type":"quantitative","axis":null}}}
]},
{"data":{"values":[{"z":0}]},"mark":{"type":"point","opacity":0},
 "encoding":{"x":{"datum":4.5,"type":"quantitative","scale":{"domain":[5.8,3.6],"range":[96,511.3],"zero":false,"nice":false},
   "axis":{"orient":"bottom","offset":-65,"values":[5.7,5.5,5.3,5.1,4.9,4.7,4.5,4.3,4.1,3.9,3.7],"tickSize":5,"tickWidth":2,"labels":false,"domain":false,"title":null}},
  "y":{"datum":0,"type":"quantitative","scale":{"domain":[-4,5],"range":[1271.7,1581.7],"zero":false,"nice":false},
   "axis":{"orient":"right","offset":-69,"values":[-3.5,-2.5,-1.5,-0.5,0.5,1.5,2.5,3.5,4.5],"tickSize":5,"tickWidth":2,"labels":false,"domain":false,"title":null}}}}
],
"resolve":{"scale":{"x":"independent","y":"independent"},"axis":{"x":"independent","y":"independent"}}
}
